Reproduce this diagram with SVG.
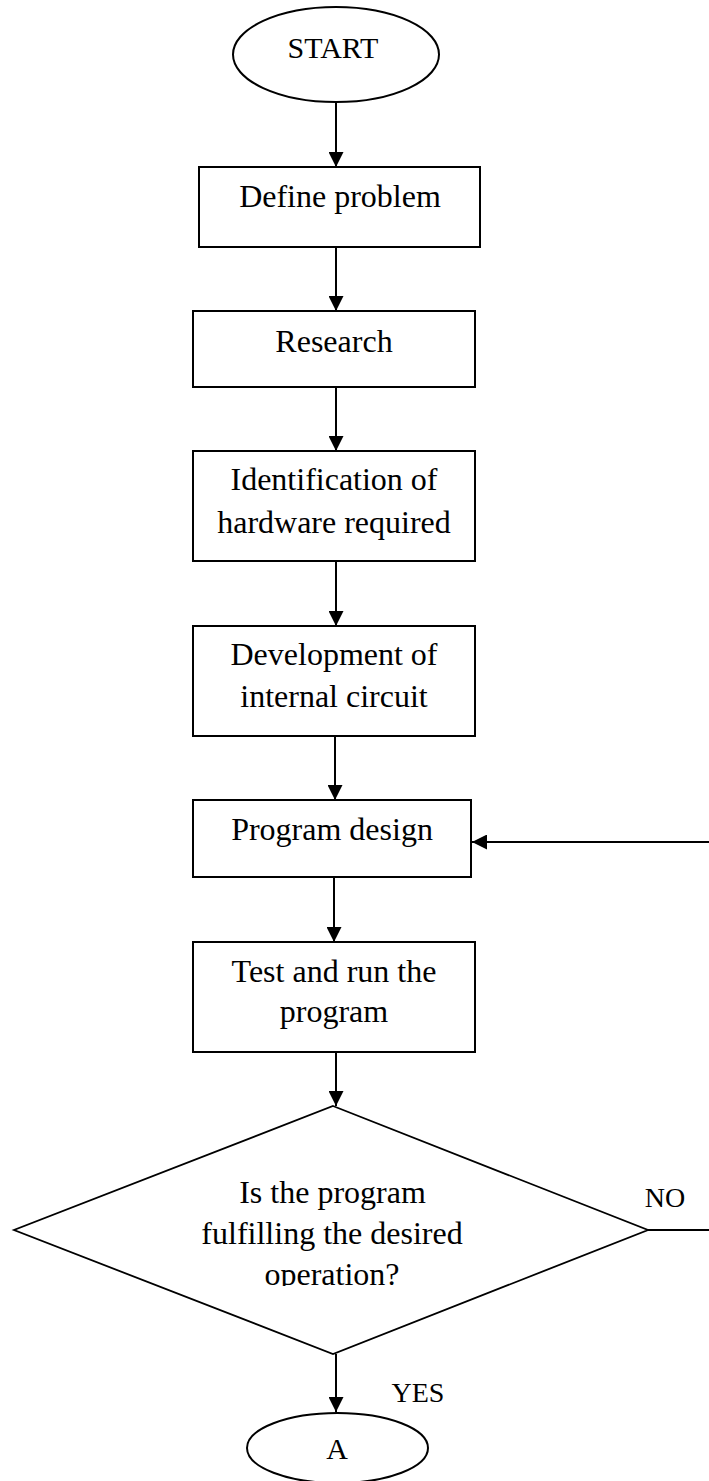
<svg xmlns="http://www.w3.org/2000/svg" width="709" height="1481" viewBox="0 0 709 1481">
<style>
.shape{fill:#fff;stroke:#000;stroke-width:2}
.dia{fill:#fff;stroke:#000;stroke-width:1.8}
.conn{fill:none;stroke:#000;stroke-width:2}
.t{font-family:"Liberation Serif","Times New Roman",serif;font-size:32px;fill:#000;text-anchor:middle}
.lbl{font-family:"Liberation Serif","Times New Roman",serif;font-size:28px;fill:#000;text-anchor:middle}
</style>
<defs>
<marker id="arr" markerUnits="userSpaceOnUse" markerWidth="15" markerHeight="15" refX="15" refY="7.5" orient="auto">
<path d="M0,0 L15,7.5 L0,15 Z" fill="#000"/>
</marker>
<clipPath id="clipQ"><rect x="0" y="1100" width="709" height="186"/></clipPath>
</defs>
<rect width="709" height="1481" fill="#fff"/>
<g id="connectors">
<line class="conn" x1="336" y1="102" x2="336" y2="167" marker-end="url(#arr)"/>
<line class="conn" x1="336" y1="247" x2="336" y2="311" marker-end="url(#arr)"/>
<line class="conn" x1="336" y1="387" x2="336" y2="451" marker-end="url(#arr)"/>
<line class="conn" x1="336" y1="561" x2="336" y2="626" marker-end="url(#arr)"/>
<line class="conn" x1="335" y1="736" x2="335" y2="800" marker-end="url(#arr)"/>
<line class="conn" x1="334" y1="877" x2="334" y2="942" marker-end="url(#arr)"/>
<line class="conn" x1="336" y1="1052" x2="336" y2="1106" marker-end="url(#arr)"/>
<line class="conn" x1="336" y1="1354" x2="336" y2="1412" marker-end="url(#arr)"/>
<line class="conn" x1="648" y1="1230" x2="709" y2="1230"/>
<line class="conn" x1="709" y1="842" x2="472" y2="842" marker-end="url(#arr)"/>
<text class="lbl" x="665" y="1207">NO</text>
<text class="lbl" x="418" y="1402">YES</text>
</g>
<g id="start">
<ellipse class="shape" cx="336" cy="54.5" rx="103" ry="47.5"/>
<text class="t" x="333" y="58" style="font-size:30px">START</text>
</g>
<g id="define">
<rect class="shape" x="199" y="167" width="281" height="80"/>
<text class="t" x="340" y="207">Define problem</text>
</g>
<g id="research">
<rect class="shape" x="193" y="311" width="282" height="76"/>
<text class="t" x="334" y="352">Research</text>
</g>
<g id="identification">
<rect class="shape" x="193" y="451" width="282" height="110"/>
<text class="t" x="334" y="490">Identification of</text>
<text class="t" x="334" y="533">hardware required</text>
</g>
<g id="development">
<rect class="shape" x="193" y="626" width="282" height="110"/>
<text class="t" x="334" y="665">Development of</text>
<text class="t" x="334" y="707">internal circuit</text>
</g>
<g id="program-design">
<rect class="shape" x="193" y="800" width="278" height="77"/>
<text class="t" x="332" y="840">Program design</text>
</g>
<g id="test">
<rect class="shape" x="193" y="942" width="282" height="110"/>
<text class="t" x="334" y="982">Test and run the</text>
<text class="t" x="334" y="1022">program</text>
</g>
<g id="decision">
<polygon class="dia" points="333,1106 648,1230 333,1354 14,1230"/>
<g clip-path="url(#clipQ)">
<text class="t" x="332.5" y="1203">Is the program</text>
<text class="t" x="332" y="1244">fulfilling the desired</text>
<text class="t" x="332" y="1285">operation?</text>
</g>
</g>
<g id="connector-a">
<ellipse class="shape" cx="337.5" cy="1448" rx="90.5" ry="35"/>
<text class="t" x="337" y="1459" style="font-size:30px">A</text>
</g>
</svg>
